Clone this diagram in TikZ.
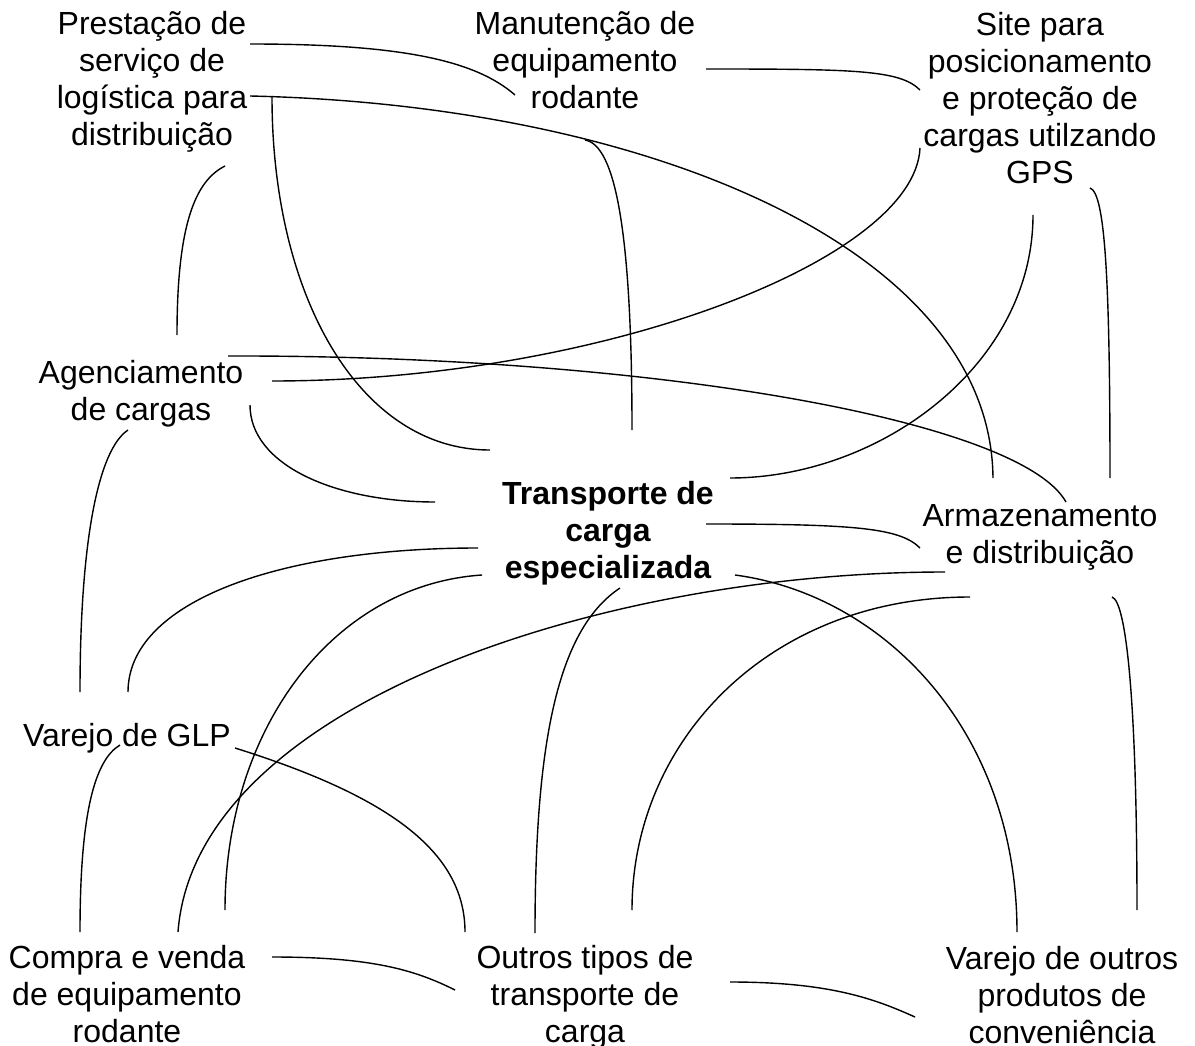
\documentclass[tikz,border=0pt]{standalone}
\usepackage{fontspec}
\setmainfont{Liberation Sans}
\begin{document}
\begin{tikzpicture}[x=1pt,y=-1pt,
  lbl/.style={align=center,font=\fontsize{32}{37}\selectfont,inner sep=0pt},
  link/.style={line width=1.4pt}]
\useasboundingbox (0,0) rectangle (1195,1046);

% activity labels
\node[lbl] (prest)  at (152,82)  {Prestação de\\serviço de\\logística para\\distribuição};
\node[lbl] (manut)  at (585,60)  {Manutenção de\\equipamento\\rodante};
\node[lbl] (site)   at (1040,98) {Site para\\posicionamento\\e proteção de\\cargas utilzando\\GPS};
\node[lbl] (agenc)  at (141,394) {Agenciamento\\de cargas};
\node[lbl,font=\fontsize{32}{37}\selectfont\bfseries] (transp) at (608,533) {Transporte de\\carga\\especializada};
\node[lbl] (armaz)  at (1040,537) {Armazenamento\\e distribuição};
\node[lbl] (glp)    at (127,738) {Varejo de GLP};
\node[lbl] (compra) at (127,994) {Compra e venda\\de equipamento\\rodante};
\node[lbl] (outros) at (585,997) {Outros tipos de\\transporte de\\carga};
\node[lbl] (varejo) at (1062,995) {Varejo de outros\\produtos de\\conveniência};

% links between activities
\draw[link] ([shift={(98,-38)}]prest.center) .. controls +(150,0) and +(-40,-35) .. ([shift={(-70,35)}]manut.center);
\draw[link] ([shift={(98,14)}]prest.center) .. controls +(400,9) and +(-2,-228) .. ([shift={(-47,-59)}]armaz.center);
\draw[link] ([shift={(120,15)}]prest.center) .. controls +(0,200) and +(-130,0) .. ([shift={(-118,-83)}]transp.center);
\draw[link] ([shift={(73,84)}]prest.center) .. controls +(-30,15) and +(0,-110) .. ([shift={(36,-59)}]agenc.center);
\draw[link] ([shift={(0,80)}]manut.center) .. controls +(30,5) and +(0,-200) .. ([shift={(24,-103)}]transp.center);
\draw[link] ([shift={(121,9)}]manut.center) .. controls +(150,0) and +(-20,-20) .. ([shift={(-120,-8)}]site.center);
\draw[link] ([shift={(-120,50)}]site.center) .. controls +(-5,112) and +(328,0) .. ([shift={(131,-13)}]agenc.center);
\draw[link] ([shift={(-7,117)}]site.center) .. controls +(0,150) and +(150,0) .. ([shift={(122,-55)}]transp.center);
\draw[link] ([shift={(50,90)}]site.center) .. controls +(15,5) and +(0,-200) .. ([shift={(70,-59)}]armaz.center);
\draw[link] ([shift={(87,-38)}]agenc.center) .. controls +(422,-1) and +(-46,-82) .. ([shift={(26,-35)}]armaz.center);
\draw[link] ([shift={(109,11)}]agenc.center) .. controls +(0,60) and +(-100,0) .. ([shift={(-173,-31)}]transp.center);
\draw[link] ([shift={(-13,36)}]agenc.center) .. controls +(-30,20) and +(0,-150) .. ([shift={(-47,-46)}]glp.center);
\draw[link] ([shift={(-130,15)}]transp.center) .. controls +(-200,0) and +(0,-90) .. ([shift={(1,-46)}]glp.center);
\draw[link] ([shift={(-126,42)}]transp.center) .. controls +(-150,10) and +(0,-180) .. ([shift={(98,-84)}]compra.center);
\draw[link] ([shift={(98,-9)}]transp.center) .. controls +(150,0) and +(-20,-20) .. ([shift={(-120,11)}]armaz.center);
\draw[link] ([shift={(12,55)}]transp.center) .. controls +(-60,40) and +(0,-200) .. ([shift={(-50,-64)}]outros.center);
\draw[link] ([shift={(127,42)}]transp.center) .. controls +(150,20) and +(0,-200) .. ([shift={(-45,-63)}]varejo.center);
\draw[link] ([shift={(-95,35)}]armaz.center) .. controls +(-345,0) and +(17,-227) .. ([shift={(51,-62)}]compra.center);
\draw[link] ([shift={(-70,60)}]armaz.center) .. controls +(-200,0) and +(0,-170) .. ([shift={(47,-87)}]outros.center);
\draw[link] ([shift={(72,60)}]armaz.center) .. controls +(15,5) and +(0,-200) .. ([shift={(75,-85)}]varejo.center);
\draw[link] ([shift={(-7,7)}]glp.center) .. controls +(-25,15) and +(0,-120) .. ([shift={(-47,-62)}]compra.center);
\draw[link] ([shift={(108,10)}]glp.center) .. controls +(150,47) and +(0,-82) .. ([shift={(-120,-65)}]outros.center);
\draw[link] ([shift={(145,-37)}]compra.center) .. controls +(100,0) and +(-40,-20) .. ([shift={(-130,-7)}]outros.center);
\draw[link] ([shift={(145,-15)}]outros.center) .. controls +(100,0) and +(-40,-18) .. ([shift={(-147,22)}]varejo.center);
\end{tikzpicture}
\end{document}
